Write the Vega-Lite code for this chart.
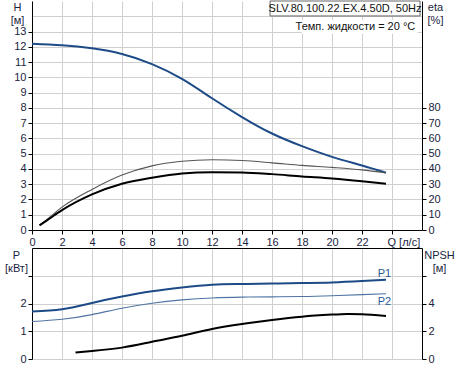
{
  "$schema": "https://vega.github.io/schema/vega-lite/v6.json",
  "padding": {"left": 4, "top": 0, "right": 0, "bottom": 0},
  "background": "white",
  "bounds": "flush",
  "spacing": 18,
  "datasets": {
    "one": [{}],
    "curves": [
      {"s": "H", "Q": 0, "v": 12.2}, {"s": "H", "Q": 2, "v": 12.1}, {"s": "H", "Q": 4, "v": 11.9}, {"s": "H", "Q": 6, "v": 11.53}, {"s": "H", "Q": 8, "v": 10.87}, {"s": "H", "Q": 10, "v": 9.9}, {"s": "H", "Q": 12, "v": 8.63}, {"s": "H", "Q": 14, "v": 7.4}, {"s": "H", "Q": 16, "v": 6.32}, {"s": "H", "Q": 18, "v": 5.49}, {"s": "H", "Q": 20, "v": 4.79}, {"s": "H", "Q": 22, "v": 4.23}, {"s": "H", "Q": 23.6, "v": 3.75},
      {"s": "eta1", "Q": 0.5, "v": 3.2}, {"s": "eta1", "Q": 1, "v": 7}, {"s": "eta1", "Q": 2, "v": 15}, {"s": "eta1", "Q": 4, "v": 26.6}, {"s": "eta1", "Q": 6, "v": 36}, {"s": "eta1", "Q": 8, "v": 42}, {"s": "eta1", "Q": 10, "v": 45}, {"s": "eta1", "Q": 12, "v": 46}, {"s": "eta1", "Q": 14, "v": 45.5}, {"s": "eta1", "Q": 16, "v": 44}, {"s": "eta1", "Q": 18, "v": 42.3}, {"s": "eta1", "Q": 20, "v": 41}, {"s": "eta1", "Q": 22, "v": 39.4}, {"s": "eta1", "Q": 23.6, "v": 37.5},
      {"s": "eta2", "Q": 0.5, "v": 3}, {"s": "eta2", "Q": 1, "v": 6.3}, {"s": "eta2", "Q": 2, "v": 13}, {"s": "eta2", "Q": 4, "v": 23.3}, {"s": "eta2", "Q": 6, "v": 30.3}, {"s": "eta2", "Q": 8, "v": 34.2}, {"s": "eta2", "Q": 10, "v": 37}, {"s": "eta2", "Q": 12, "v": 37.9}, {"s": "eta2", "Q": 14, "v": 37.7}, {"s": "eta2", "Q": 16, "v": 36.6}, {"s": "eta2", "Q": 18, "v": 35.1}, {"s": "eta2", "Q": 20, "v": 33.8}, {"s": "eta2", "Q": 22, "v": 32}, {"s": "eta2", "Q": 23.6, "v": 30.3},
      {"s": "P1", "Q": 0, "v": 1.71}, {"s": "P1", "Q": 2, "v": 1.79}, {"s": "P1", "Q": 4, "v": 2.02}, {"s": "P1", "Q": 6, "v": 2.25}, {"s": "P1", "Q": 8, "v": 2.44}, {"s": "P1", "Q": 10, "v": 2.58}, {"s": "P1", "Q": 12, "v": 2.68}, {"s": "P1", "Q": 14, "v": 2.7}, {"s": "P1", "Q": 16, "v": 2.72}, {"s": "P1", "Q": 18, "v": 2.74}, {"s": "P1", "Q": 20, "v": 2.76}, {"s": "P1", "Q": 22, "v": 2.81}, {"s": "P1", "Q": 23.6, "v": 2.86},
      {"s": "P2", "Q": 0, "v": 1.35}, {"s": "P2", "Q": 2, "v": 1.43}, {"s": "P2", "Q": 4, "v": 1.6}, {"s": "P2", "Q": 6, "v": 1.83}, {"s": "P2", "Q": 8, "v": 2.01}, {"s": "P2", "Q": 10, "v": 2.13}, {"s": "P2", "Q": 12, "v": 2.2}, {"s": "P2", "Q": 14, "v": 2.23}, {"s": "P2", "Q": 16, "v": 2.24}, {"s": "P2", "Q": 18, "v": 2.25}, {"s": "P2", "Q": 20, "v": 2.28}, {"s": "P2", "Q": 22, "v": 2.32}, {"s": "P2", "Q": 23.6, "v": 2.35},
      {"s": "NPSH", "Q": 2.9, "v": 0.46}, {"s": "NPSH", "Q": 4, "v": 0.58}, {"s": "NPSH", "Q": 6, "v": 0.82}, {"s": "NPSH", "Q": 8, "v": 1.24}, {"s": "NPSH", "Q": 10, "v": 1.67}, {"s": "NPSH", "Q": 12, "v": 2.16}, {"s": "NPSH", "Q": 14, "v": 2.52}, {"s": "NPSH", "Q": 16, "v": 2.81}, {"s": "NPSH", "Q": 18, "v": 3.05}, {"s": "NPSH", "Q": 20, "v": 3.2}, {"s": "NPSH", "Q": 21, "v": 3.25}, {"s": "NPSH", "Q": 22, "v": 3.22}, {"s": "NPSH", "Q": 23.6, "v": 3.1}
    ]
  },
  "vconcat": [
    {
      "width": 390,
      "height": 229,
      "layer": [
        {
          "layer": [
            {
              "data": {"name": "curves"},
              "transform": [{"filter": "datum.s == 'H'"}],
              "mark": {"type": "line", "color": "#1d4b87", "strokeWidth": 2, "interpolate": "natural"},
              "encoding": {
                "x": {"field": "Q", "type": "quantitative", "scale": {"domain": [0, 26], "nice": false, "zero": false},
                  "axis": {"values": [0, 2, 4, 6, 8, 10, 12, 14, 16, 18, 20, 22, 24], "tickCount": 100, "format": "d", "grid": true, "title": null, "labelOverlap": false,
                    "labelExpr": "datum.value == 24 ? 'Q [л/с]' : datum.label",
                    "labelAlign": {"condition": {"test": "datum.value == 24", "value": "left"}, "value": "center"},
                    "labelOffset": {"condition": {"test": "datum.value == 24", "value": -5}, "value": 0}}},
                "y": {"field": "v", "type": "quantitative", "scale": {"domain": [0, 15], "nice": false},
                  "axis": {"values": [0, 1, 2, 3, 4, 5, 6, 7, 8, 9, 10, 11, 12, 13, 14], "tickCount": 100, "format": "d", "grid": true, "labelOverlap": false,
                    "labelExpr": "datum.value > 13 ? '' : datum.label",
                    "tickOpacity": {"condition": {"test": "datum.value > 13", "value": 0}, "value": 1},
                    "title": ["H", "[м]"], "titleAngle": 0, "titleAlign": "center", "titleBaseline": "top", "titleX": -15, "titleY": 0, "titleLineHeight": 13}}
              }
            },
            {
              "data": {"name": "one"},
              "mark": {"type": "rect", "fill": "white", "stroke": "#666", "strokeWidth": 1},
              "encoding": {
                "x": {"datum": 15.87, "type": "quantitative"},
                "x2": {"datum": 25.87},
                "y": {"datum": 15, "type": "quantitative"},
                "y2": {"datum": 14.02}
              }
            },
            {
              "data": {"name": "one"},
              "mark": {"type": "rect", "fill": "white"},
              "encoding": {
                "x": {"datum": 18.0, "type": "quantitative"},
                "x2": {"datum": 25.7},
                "y": {"datum": 13.75, "type": "quantitative"},
                "y2": {"datum": 12.85}
              }
            },
            {
              "data": {"name": "one"},
              "mark": {"type": "text", "font": "Liberation Sans", "fontSize": 11, "color": "#111", "align": "center", "baseline": "middle"},
              "encoding": {
                "x": {"datum": 20.87, "type": "quantitative"},
                "y": {"datum": 14.5, "type": "quantitative"},
                "text": {"value": "SLV.80.100.22.EX.4.50D, 50Hz"}
              }
            },
            {
              "data": {"name": "one"},
              "mark": {"type": "text", "font": "Liberation Sans", "fontSize": 11, "color": "#111", "align": "right", "baseline": "middle"},
              "encoding": {
                "x": {"datum": 25.55, "type": "quantitative"},
                "y": {"datum": 13.28, "type": "quantitative"},
                "text": {"value": "Темп. жидкости = 20 °C"}
              }
            }
          ]
        },
        {
          "layer": [
            {
              "data": {"name": "curves"},
              "transform": [{"filter": "datum.s == 'eta1'"}],
              "mark": {"type": "line", "color": "#555", "strokeWidth": 1.1, "interpolate": "monotone"},
              "encoding": {
                "x": {"field": "Q", "type": "quantitative"},
                "y": {"field": "v", "type": "quantitative", "scale": {"domain": [0, 150], "nice": false},
                  "axis": {"orient": "right", "values": [0, 10, 20, 30, 40, 50, 60, 70, 80], "tickCount": 100, "format": "d", "grid": false, "labelOverlap": false,
                    "title": ["eta", "[%]"], "titleAngle": 0, "titleAlign": "center", "titleBaseline": "top", "titleX": 13, "titleY": 0, "titleLineHeight": 13}}
              }
            },
            {
              "data": {"name": "curves"},
              "transform": [{"filter": "datum.s == 'eta2'"}],
              "mark": {"type": "line", "color": "#000", "strokeWidth": 2, "interpolate": "monotone"},
              "encoding": {
                "x": {"field": "Q", "type": "quantitative"},
                "y": {"field": "v", "type": "quantitative"}
              }
            }
          ]
        }
      ],
      "resolve": {"scale": {"y": "independent"}, "axis": {"y": "independent"}}
    },
    {
      "width": 390,
      "height": 111,
      "layer": [
        {
          "layer": [
            {
              "data": {"name": "curves"},
              "transform": [{"filter": "datum.s == 'P2'"}],
              "mark": {"type": "line", "color": "#4f74a3", "strokeWidth": 1.1, "interpolate": "natural"},
              "encoding": {
                "x": {"field": "Q", "type": "quantitative", "scale": {"domain": [0, 26], "nice": false, "zero": false},
                  "axis": {"orient": "top", "values": [0, 2, 4, 6, 8, 10, 12, 14, 16, 18, 20, 22, 24], "tickCount": 100, "grid": true, "labels": false, "ticks": false, "title": null}},
                "y": {"field": "v", "type": "quantitative", "scale": {"domain": [0, 4], "nice": false},
                  "axis": {"values": [0, 1, 2, 3], "tickCount": 100, "format": "d", "grid": true, "labelOverlap": false,
                    "labelExpr": "datum.value == 3 ? '' : datum.label",
                    "title": ["P", "[кВт]"], "titleAngle": 0, "titleAlign": "center", "titleBaseline": "top", "titleX": -16, "titleY": 1, "titleLineHeight": 13}}
              }
            },
            {
              "data": {"name": "curves"},
              "transform": [{"filter": "datum.s == 'P1'"}],
              "mark": {"type": "line", "color": "#1d4b87", "strokeWidth": 2, "interpolate": "natural"},
              "encoding": {
                "x": {"field": "Q", "type": "quantitative"},
                "y": {"field": "v", "type": "quantitative"}
              }
            },
            {
              "data": {"name": "one"},
              "mark": {"type": "text", "font": "Liberation Sans", "fontSize": 11, "color": "#2a5a96", "align": "center", "baseline": "middle"},
              "encoding": {
                "x": {"datum": 23.5, "type": "quantitative"},
                "y": {"datum": 3.08, "type": "quantitative"},
                "text": {"value": "P1"}
              }
            },
            {
              "data": {"name": "one"},
              "mark": {"type": "text", "font": "Liberation Sans", "fontSize": 11, "color": "#2a5a96", "align": "center", "baseline": "middle"},
              "encoding": {
                "x": {"datum": 23.5, "type": "quantitative"},
                "y": {"datum": 2.07, "type": "quantitative"},
                "text": {"value": "P2"}
              }
            }
          ]
        },
        {
          "layer": [
            {
              "data": {"name": "curves"},
              "transform": [{"filter": "datum.s == 'NPSH'"}],
              "mark": {"type": "line", "color": "#000", "strokeWidth": 2, "interpolate": "natural"},
              "encoding": {
                "x": {"field": "Q", "type": "quantitative"},
                "y": {"field": "v", "type": "quantitative", "scale": {"domain": [0, 8], "nice": false},
                  "axis": {"orient": "right", "values": [0, 2, 4, 6], "tickCount": 100, "format": "d", "grid": false, "labelOverlap": false,
                    "labelExpr": "datum.value == 6 ? '' : datum.label",
                    "title": ["NPSH", "[м]"], "titleAngle": 0, "titleAlign": "center", "titleBaseline": "top", "titleX": 17, "titleY": 1, "titleLineHeight": 13}}
              }
            }
          ]
        }
      ],
      "resolve": {"scale": {"y": "independent"}, "axis": {"y": "independent"}}
    }
  ],
  "config": {
    "view": {"stroke": null},
    "axis": {
      "labelFont": "Liberation Sans", "titleFont": "Liberation Sans",
      "labelFontSize": 11, "titleFontSize": 11, "titleFontWeight": "normal",
      "labelColor": "#1a2440", "titleColor": "#1a2440",
      "gridColor": "#d0d0d0", "gridOpacity": 1, "domainColor": "#000", "tickColor": "#000",
      "tickSize": 4, "labelPadding": 2
    }
  }
}
